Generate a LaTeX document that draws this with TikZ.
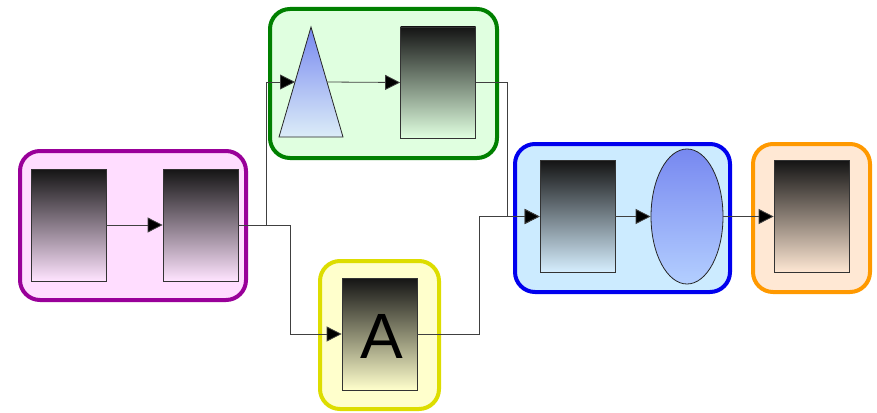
\documentclass[tikz,border=0pt]{standalone}
\usepackage{fontspec}
\newfontfamily\sansA{Liberation Sans}
\usetikzlibrary{shapes.geometric,arrows.meta}
\definecolor{pfill}{HTML}{FFDDFF}\definecolor{pline}{HTML}{990099}
\definecolor{gfill}{HTML}{E0FFE0}\definecolor{gline}{HTML}{008000}
\definecolor{bfill}{HTML}{CCEBFF}\definecolor{bline}{HTML}{0000EE}
\definecolor{ofill}{HTML}{FFE8D4}\definecolor{oline}{HTML}{FF9900}
\definecolor{yfill}{HTML}{FFFFCC}\definecolor{yline}{HTML}{DDDD00}
\definecolor{shapetop}{HTML}{7788F0}
\tikzset{
  group/.style={line width=4pt, rounded corners=20pt},
  block/.style={draw=black!80, line width=0.8pt, minimum width=75pt, minimum height=112pt, inner sep=0pt, top color=black!92},
  arr/.style={draw=black!75, line width=0.8pt, -{Triangle[length=15pt,width=15pt,fill=black]}},
}
\begin{document}
\begin{tikzpicture}[x={(1pt,0)}, y={(0,-1pt)}]
\useasboundingbox (0,0) rectangle (877,412);
% groups
\path[group, draw=pline, fill=pfill] (20,151) rectangle (246,300);
\path[group, draw=gline, fill=gfill] (270,9) rectangle (497,158);
\path[group, draw=bline, fill=bfill] (515,144) rectangle (730,292);
\path[group, draw=oline, fill=ofill] (753,144) rectangle (870,292);
\path[group, draw=yline, fill=yfill] (320,261) rectangle (439,409);
% blocks
\node[block, bottom color=pfill!80!white] (r1) at (68.5,225) {};
\node[block, bottom color=pfill!80!white] (r2) at (200.5,225) {};
\node[block, bottom color=gfill, minimum height=111pt] (rG) at (438,82.5) {};
\node[block, bottom color=bfill!80!white] (rB) at (577.5,216.5) {};
\node[block, bottom color=ofill] (rO) at (811.5,216.5) {};
\node[block, bottom color=yfill] (rA) at (379.5,334) {};
\node[font={\sansA\fontsize{64}{64}\selectfont}, anchor=base, inner sep=0pt] (lA) at (382,358) {A};
% triangle
\shade[top color=shapetop, bottom color=bfill!90!gray!60!white, draw=black!85, line width=0.8pt]
  (279,137) -- (311,27) -- (343,137) -- cycle;
\coordinate (triL) at (295,82);
\coordinate (triR) at (327,82);
% ellipse
\node[ellipse, draw=black!85, line width=0.8pt, minimum width=72pt, minimum height=135pt, inner sep=0pt,
  top color=shapetop, bottom color=blue!12!bfill] (ell) at (687,216.5) {};
% connectors
\draw[arr] (r1.east) -- (r2.west);
\draw[arr] (r2.east) -- ++(28,0) |- (triL);
\draw[arr] (r2.east) -- ++(52,0) |- (rA.west);
\draw[arr] (triR) -- (rG.west);
\draw[arr] (rG.east) -- ++(31,0) |- (rB.west);
\draw[arr] (rA.east) -- ++(62,0) |- (rB.west);
\draw[arr] (rB.east) -- (ell.west);
\draw[arr] (ell.east) -- (rO.west);
\end{tikzpicture}
\end{document}
